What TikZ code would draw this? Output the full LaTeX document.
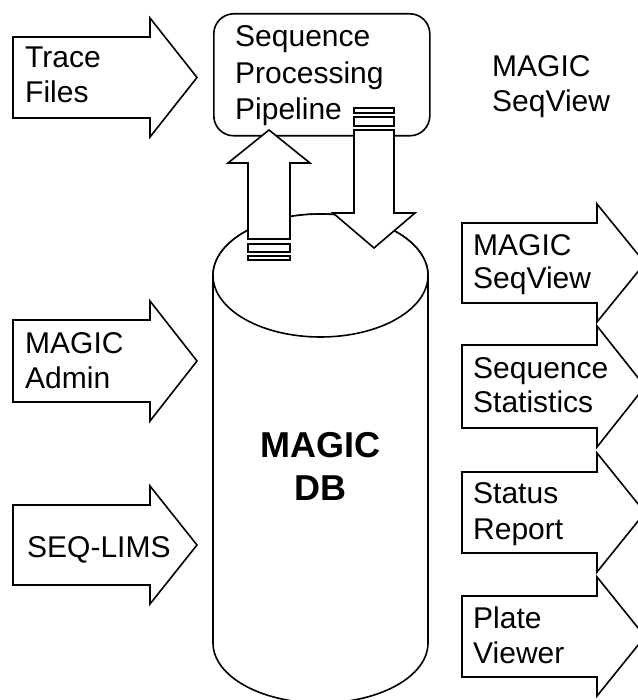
\documentclass[tikz,border=0pt]{standalone}
\usepackage{fontspec}
\setmainfont{Liberation Sans}
\newcommand\mylbl[1]{\begin{tabular}[t]{@{}l@{}}#1\end{tabular}}
\newcommand\blockarrow[5]{\draw[blk] (#1,#2) -- (#4,#2) -- (#4,{#2-19}) -- (#5,{(#2+#3)/2}) -- (#4,{#3+19}) -- (#4,#3) -- (#1,#3) -- cycle;}
\begin{document}
\begin{tikzpicture}[x=1pt,y=-1pt,
  blk/.style={draw=black,fill=white,line width=1.6pt,line join=miter},
  lbl/.style={anchor=base west,inner sep=0pt,font=\fontsize{30}{35}\selectfont},
  dblbl/.style={anchor=base,inner sep=0pt,font=\fontsize{36}{43}\selectfont\bfseries}]
\useasboundingbox (0,0) rectangle (637,700);
% cylinder
\coordinate (cyltop) at (320.5,275.5);
\coordinate (cylbot) at (320.5,643);
\draw[blk] (213,275.5) -- (213,643) arc[start angle=180,end angle=360,x radius=107.5,y radius=-60] -- (428,275.5) arc[start angle=0,end angle=180,x radius=107.5,y radius=-61.5] -- cycle;
\draw[blk] (cyltop) ellipse[x radius=107.5,y radius=61.5];
\node[dblbl] (db) at (320.5,457) {\begin{tabular}[t]{@{}c@{}}MAGIC\\DB\end{tabular}};
% pipeline box
\node[blk,rounded corners=20pt,minimum width=216pt,minimum height=122pt,anchor=north west,inner sep=0pt] (spp) at (213,13) {};
\node[lbl] (spptxt) at (235,47) {\fontsize{30}{36.5}\selectfont\mylbl{Sequence\\Processing\\Pipeline}};
% up arrow (DB -> pipeline)
\draw[blk] (248,239) -- (248,163) -- (228,163) -- (269,130) -- (310,163) -- (290,163) -- (290,239) -- cycle;
\draw[blk] (248,244) rectangle (290,252);
\draw[blk] (248,256) rectangle (290,260);
% down arrow (pipeline -> DB)
\draw[blk] (354,130) -- (394,130) -- (394,213) -- (415,213) -- (374,248) -- (333,213) -- (354,213) -- cycle;
\draw[blk] (354,108) rectangle (394,113);
\draw[blk] (354,117) rectangle (394,126);
% left arrows
\blockarrow{13}{37}{118}{150}{197}
\node[lbl] (trace) at (25,68) {\mylbl{Trace\\Files}};
\blockarrow{13}{320}{402}{150}{197}
\node[lbl] (admin) at (25,353) {\mylbl{MAGIC\\Admin}};
\blockarrow{13}{505}{585}{150}{197}
\node[lbl] (lims) at (27,557) {SEQ-LIMS};
% right arrows
\blockarrow{462}{223}{303}{597}{645}
\node[lbl] (seqview) at (473,255) {\fontsize{30}{33.5}\selectfont\mylbl{MAGIC\\SeqView}};
\blockarrow{462}{345}{428}{597}{645}
\node[lbl] (stats) at (473,378) {\fontsize{30}{34}\selectfont\mylbl{Sequence\\Statistics}};
\blockarrow{462}{472}{553}{597}{645}
\node[lbl] (status) at (473,503) {\fontsize{30}{36}\selectfont\mylbl{Status\\Report}};
\blockarrow{462}{596}{677}{597}{645}
\node[lbl] (plate) at (473,628) {\mylbl{Plate\\Viewer}};
% top-right label
\node[lbl] (toplbl) at (492,77) {\mylbl{MAGIC\\SeqView}};
\end{tikzpicture}
\end{document}
